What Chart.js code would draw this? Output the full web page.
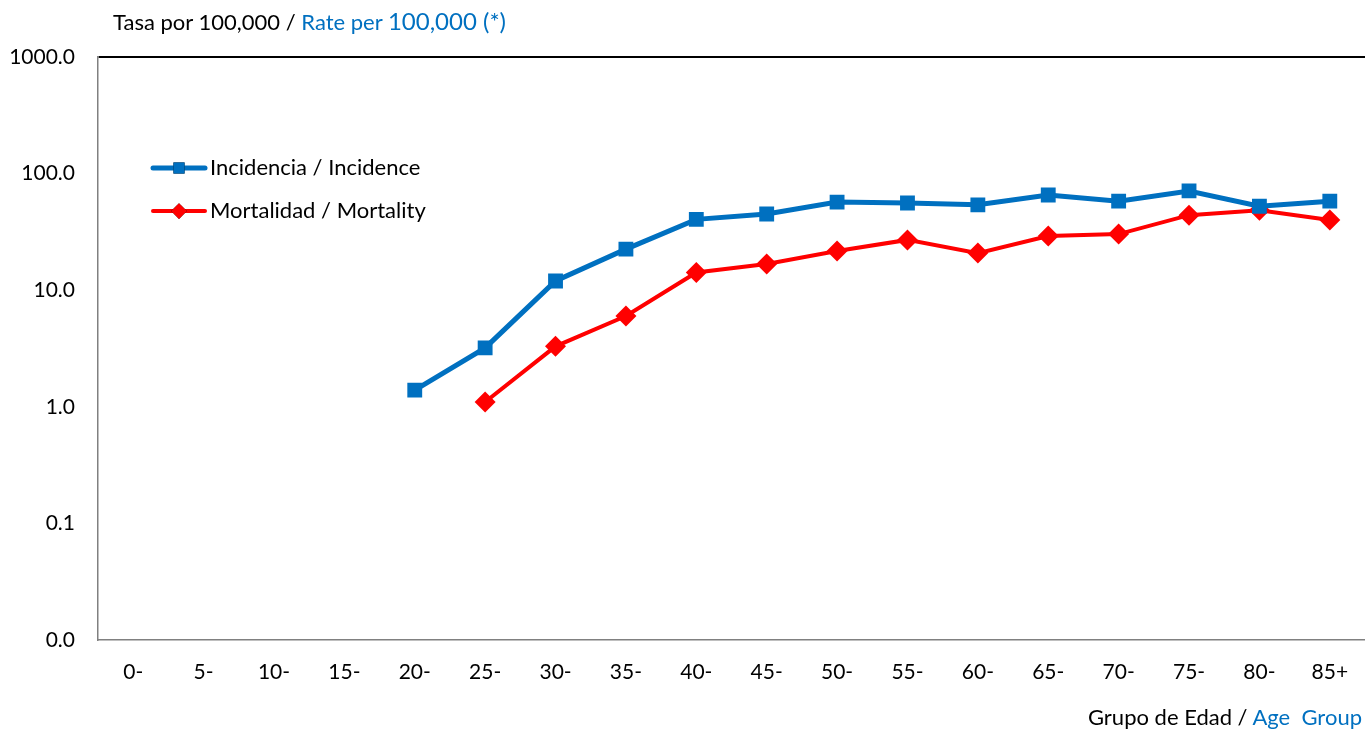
<!DOCTYPE html>
<html>
<head>
<meta charset="utf-8">
<script src="https://cdn.jsdelivr.net/npm/chart.js@4.4.1/dist/chart.umd.min.js"></script>
<style>
  html, body { margin: 0; padding: 0; background: #fff; }
  #caja { position: relative; width: 1365px; height: 729px; font-family: Lato, "Open Sans", sans-serif; }
  #grafico { position: absolute; left: 0; top: 0; }
  .titulo { position: absolute; font-size: 22px; line-height: 26px; color: #000; white-space: nowrap; }
  .azul { color: #0070C0; }
  #tituloY { left: 113px; top: 8px; }
  #tituloX { right: 3px; top: 704px; }
</style>
</head>
<body>
<div id="caja">
  <canvas id="grafico" width="1365" height="729"></canvas>
  <div class="titulo" id="tituloY">Tasa por 100,000 / <span class="azul">Rate per <span style="font-size:24px">100,000 (*)</span></span></div>
  <div class="titulo" id="tituloX">Grupo de Edad / <span class="azul">Age&nbsp; Group</span></div>
</div>
<script>
const gruposEdad = ["0-", "5-", "10-", "15-", "20-", "25-", "30-", "35-", "40-", "45-",
  "50-", "55-", "60-", "65-", "70-", "75-", "80-", "85+"];
const incidencia = [null, null, null, null, 1.39, 3.2, 12.0, 22.5, 40.5, 45.0,
  57.0, 56.0, 54.0, 65.5, 58.0, 71.0, 52.5, 58.0];
const mortalidad = [null, null, null, null, null, 1.1, 3.3, 6.0, 14.2, 16.8,
  21.7, 27.0, 20.8, 29.2, 30.3, 44.0, 48.5, 40.0];
const marcasY = [0.01, 0.1, 1, 10, 100, 1000];

const fuente = "Lato, 'Open Sans', sans-serif";

// leyenda dibujada dentro del area del grafico, arriba a la izquierda
const leyendaPropia = {
  id: "leyendaPropia",
  afterDraw(chart) {
    const ctx = chart.ctx;
    const filas = [
      { ds: chart.data.datasets[0], y: 168 },
      { ds: chart.data.datasets[1], y: 211 }
    ];
    ctx.save();
    filas.forEach(fila => {
      const ds = fila.ds;
      ctx.strokeStyle = ds.borderColor;
      ctx.lineWidth = ds.borderWidth;
      ctx.lineCap = "round";
      ctx.beginPath();
      ctx.moveTo(153, fila.y);
      ctx.lineTo(205, fila.y);
      ctx.stroke();
      Chart.helpers.drawPoint(ctx, {
        pointStyle: ds.pointStyle,
        radius: ds.pointRadius * 0.75,
        borderWidth: 0
      }, 179, fila.y);
      ctx.fillStyle = ds.backgroundColor;
      ctx.fill();
      ctx.fillStyle = "#000";
      ctx.font = "22px " + fuente;
      ctx.textBaseline = "middle";
      ctx.fillText(ds.label, 210, fila.y);
    });
    ctx.restore();
  }
};

new Chart(document.getElementById("grafico").getContext("2d"), {
  type: "line",
  data: {
    labels: gruposEdad,
    datasets: [
      {
        label: "Incidencia / Incidence",
        data: incidencia,
        borderColor: "#0070C0",
        backgroundColor: "#0070C0",
        borderWidth: 5,
        pointStyle: "rect",
        pointRadius: 10.5,
        pointBorderWidth: 0,
        pointHoverRadius: 10.5
      },
      {
        label: "Mortalidad / Mortality",
        data: mortalidad,
        borderColor: "#FF0000",
        backgroundColor: "#FF0000",
        borderWidth: 4,
        pointStyle: "rectRot",
        pointRadius: 10.5,
        pointBorderWidth: 0,
        pointHoverRadius: 10.5
      }
    ]
  },
  options: {
    responsive: false,
    animation: false,
    layout: { autoPadding: false, padding: { top: 57, right: -2, left: 0, bottom: 0 } },
    plugins: {
      legend: { display: false },
      tooltip: { enabled: false }
    },
    scales: {
      x: {
        type: "category",
        offset: true,
        grid: { display: false, drawTicks: true, tickLength: 20 },
        border: { color: "#808080", width: 1.5 },
        ticks: { color: "#000", padding: 0, maxRotation: 0, font: { family: fuente, size: 21 } },
        afterFit: escala => {
          escala.height = 89;
          escala.paddingLeft = 0;
          escala.paddingRight = 0;
        }
      },
      y: {
        type: "logarithmic",
        min: 0.01,
        max: 1000,
        grid: {
          drawTicks: false,
          color: ctx => ctx.tick && ctx.tick.value === 1000 ? "#000" : "rgba(0,0,0,0)",
          lineWidth: 2
        },
        border: { color: "#808080", width: 1.5 },
        afterBuildTicks: escala => { escala.ticks = marcasY.map(v => ({ value: v })); },
        ticks: {
          color: "#000",
          padding: 23,
          font: { family: fuente, size: 21 },
          callback: valor => Number(valor).toFixed(1)
        },
        afterFit: escala => {
          escala.width = 98;
          escala.paddingTop = 0;
          escala.paddingBottom = 0;
        }
      }
    }
  },
  plugins: [leyendaPropia]
});
</script>
</body>
</html>
